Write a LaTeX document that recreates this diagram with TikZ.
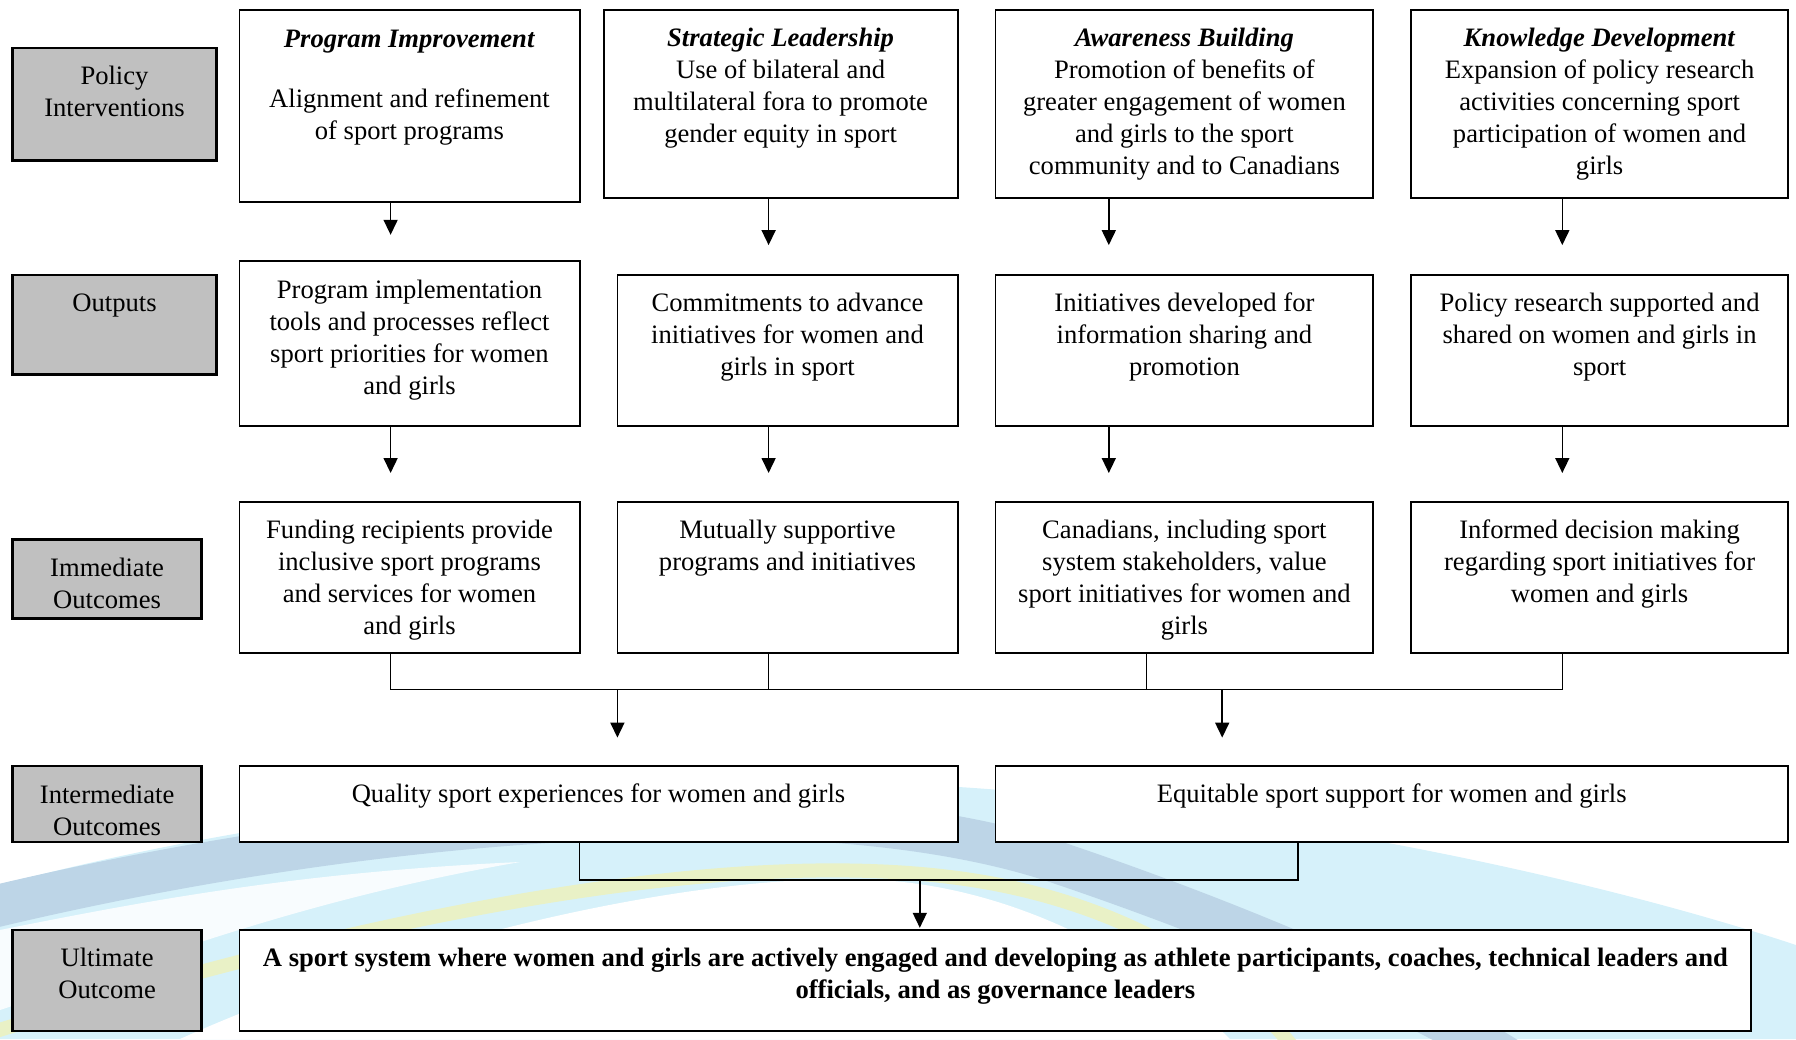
\documentclass[tikz,border=0pt]{standalone}
\usepackage{fontspec}
\setmainfont{Liberation Serif}
\usetikzlibrary{arrows.meta}
\definecolor{cyanbg}{HTML}{D6F1FA}
\definecolor{steelbg}{HTML}{BDD5E7}
\definecolor{yellowbg}{HTML}{E9F1C6}
\definecolor{graybox}{HTML}{C0C0C0}
\tikzset{
  wbox/.style={draw=black, line width=1.8pt, fill=white, inner sep=0pt},
  gbox/.style={draw=black, line width=2.3pt, fill=graybox, inner sep=0pt},
  txt/.style={anchor=north, inner sep=0pt, align=center, font=\fontsize{26.6}{32}\selectfont},
  conn/.style={line width=1.6pt},
  arr/.style={conn, -{Triangle[length=15pt,width=14pt]}},
}
\newcommand{\mkbox}[6]{%
  \pgfmathsetmacro{\mkbw}{#5-#3}\pgfmathsetmacro{\mkbh}{#6-#4}%
  \node[#2, minimum width=\mkbw pt, minimum height=\mkbh pt] (#1) at ({(#3+#5)/2},{(#4+#6)/2}) {};}
\newcommand{\mktxt}[4]{\node[txt] (#1) at (#2,#3) {\strut #4};}
\begin{document}
\begin{tikzpicture}[x=1pt,y=-1pt]
\useasboundingbox (0,0) rectangle (1796,1039);
% ---------- background swoosh ----------
\begin{scope}
\clip (0,0) rectangle (1796,1039);
\fill[cyanbg] (0,1039) -- (0,885) .. controls (300,805) and (700,765) .. (1000,790)
   .. controls (1300,815) and (1600,880) .. (1796,945) -- (1796,1039) -- cycle;
\fill[white, opacity=0.85] (0,930) .. controls (150,900) and (300,872) .. (520,862)
   .. controls (300,900) and (150,960) .. (0,1010) -- cycle;
\draw[steelbg, line width=42pt] (-20,910) .. controls (350,820) and (800,780) .. (1050,860)
   .. controls (1200,910) and (1400,990) .. (1510,1060);
\fill[white] (180,1039) .. controls (400,940) and (700,870) .. (880,880)
   .. controls (1040,890) and (1170,980) .. (1230,1039) -- cycle;
\draw[yellowbg, line width=14pt] (-20,1036) .. controls (350,920) and (750,835) .. (1000,885)
   .. controls (1150,915) and (1250,990) .. (1295,1050);
\end{scope}
% ---------- gray label boxes ----------
\mkbox{G1}{gbox}{12.6}{48.1}{216.5}{160.4}
\mkbox{G2}{gbox}{12.6}{274.9}{216.5}{374.5}
\mkbox{G3}{gbox}{12.6}{539.5}{201.6}{618.5}
\mkbox{G4}{gbox}{12.6}{766.3}{201.6}{841.9}
\mkbox{G5}{gbox}{12.6}{930.1}{201.6}{1030.9}
\mktxt{G1t}{114.5}{62}{Policy\\Interventions}
\mktxt{G2t}{114.5}{288.8}{Outputs}
\mktxt{G3t}{107.1}{553.4}{Immediate\\Outcomes}
\mktxt{G4t}{107.1}{781}{Intermediate\\Outcomes}
\mktxt{G5t}{107.1}{944}{Ultimate\\Outcome}
% ---------- row 1 ----------
\mkbox{A1}{wbox}{239.4}{10.3}{579.6}{201.6}
\mkbox{B1}{wbox}{603.6}{10.3}{957.6}{198.2}
\mkbox{C1}{wbox}{995.4}{10.3}{1373.3}{198.2}
\mkbox{D1}{wbox}{1411.1}{10.3}{1788}{198.2}
\mktxt{A1t}{409.5}{24.6}{\textbf{\textit{Program Improvement}}\\[28.7pt]Alignment and refinement\\of sport programs}
\mktxt{B1t}{780.6}{24.3}{\textbf{\textit{Strategic Leadership}}\\Use of bilateral and\\multilateral fora to promote\\gender equity in sport}
\mktxt{C1t}{1184.4}{24.3}{\textbf{\textit{Awareness Building}}\\Promotion of benefits of\\greater engagement of women\\and girls to the sport\\community and to Canadians}
\mktxt{D1t}{1599.6}{24.3}{\textbf{\textit{Knowledge Development}}\\Expansion of policy research\\activities concerning sport\\participation of women and\\girls}
% ---------- row 2 ----------
\mkbox{A2}{wbox}{239.4}{261.2}{579.6}{426.1}
\mkbox{B2}{wbox}{617.4}{274.9}{957.6}{426.1}
\mkbox{C2}{wbox}{995.4}{274.9}{1373.3}{426.1}
\mkbox{D2}{wbox}{1411.1}{274.9}{1788}{426.1}
\mktxt{A2t}{409.5}{276.2}{Program implementation\\tools and processes reflect\\sport priorities for women\\and girls}
\mktxt{B2t}{787.5}{288.8}{Commitments to advance\\initiatives for women and\\girls in sport}
\mktxt{C2t}{1184.4}{288.8}{Initiatives developed for\\information sharing and\\promotion}
\mktxt{D2t}{1599.6}{288.8}{Policy research supported and\\shared on women and girls in\\sport}
% ---------- row 3 ----------
\mkbox{A3}{wbox}{239.4}{501.7}{579.6}{652.9}
\mkbox{B3}{wbox}{617.4}{501.7}{957.6}{652.9}
\mkbox{C3}{wbox}{995.4}{501.7}{1373.3}{652.9}
\mkbox{D3}{wbox}{1411.1}{501.7}{1788}{652.9}
\mktxt{A3t}{409.5}{515.6}{Funding recipients provide\\inclusive sport programs\\and services for women\\and girls}
\mktxt{B3t}{787.5}{515.6}{Mutually supportive\\programs and initiatives}
\mktxt{C3t}{1184.4}{515.6}{Canadians, including sport\\system stakeholders, value\\sport initiatives for women and\\girls}
\mktxt{D3t}{1599.6}{515.6}{Informed decision making\\regarding sport initiatives for\\women and girls}
% ---------- row 4 ----------
\mkbox{E1}{wbox}{239.4}{766.3}{957.6}{841.9}
\mkbox{E2}{wbox}{995.4}{766.3}{1788}{841.9}
\mktxt{E1t}{598.5}{780.2}{Quality sport experiences for women and girls}
\mktxt{E2t}{1391.7}{780.2}{Equitable sport support for women and girls}
% ---------- row 5 ----------
\mkbox{F}{wbox}{239.4}{930.1}{1751.3}{1030.9}
\mktxt{Ft}{995.4}{944}{\textbf{A sport system where women and girls are actively engaged and developing as athlete participants, coaches, technical leaders and}\\\textbf{officials, and as governance leaders}}
% ---------- connectors ----------
\coordinate (tA1) at (390.6,234.8);
\coordinate (tB1) at (768.6,245.1);
\coordinate (tC1) at (1108.8,245.1);
\coordinate (tD1) at (1562.3,245.1);
\draw[arr] (A1.south -| tA1) -- (tA1);
\draw[arr] (B1.south -| tB1) -- (tB1);
\draw[arr] (C1.south -| tC1) -- (tC1);
\draw[arr] (D1.south -| tD1) -- (tD1);
\coordinate (tA2) at (390.6,473);
\coordinate (tB2) at (768.6,473);
\coordinate (tC2) at (1108.8,473);
\coordinate (tD2) at (1562.3,473);
\draw[arr] (A2.south -| tA2) -- (tA2);
\draw[arr] (B2.south -| tB2) -- (tB2);
\draw[arr] (C2.south -| tC2) -- (tC2);
\draw[arr] (D2.south -| tD2) -- (tD2);
\coordinate (mA) at (390.6,689.5);
\coordinate (mB) at (768.6,689.5);
\coordinate (mC) at (1146.6,689.5);
\coordinate (mD) at (1562.3,689.5);
\draw[conn] (A3.south -| mA) -- (mA) -- (mD) -- (D3.south -| mD);
\draw[conn] (B3.south -| mB) -- (mB);
\draw[conn] (C3.south -| mC) -- (mC);
\coordinate (tE1) at (617.4,737.6);
\coordinate (tE2) at (1222.2,737.6);
\draw[arr] (tE1 |- mA) -- (tE1);
\draw[arr] (tE2 |- mA) -- (tE2);
\coordinate (nL) at (579.6,879.7);
\coordinate (nR) at (1297.7,879.7);
\draw[conn] (E1.south -| nL) -- (nL) -- (nR) -- (E2.south -| nR);
\coordinate (tF) at (919.8,927.8);
\draw[arr] (tF |- nL) -- (tF);
\end{tikzpicture}
\end{document}
